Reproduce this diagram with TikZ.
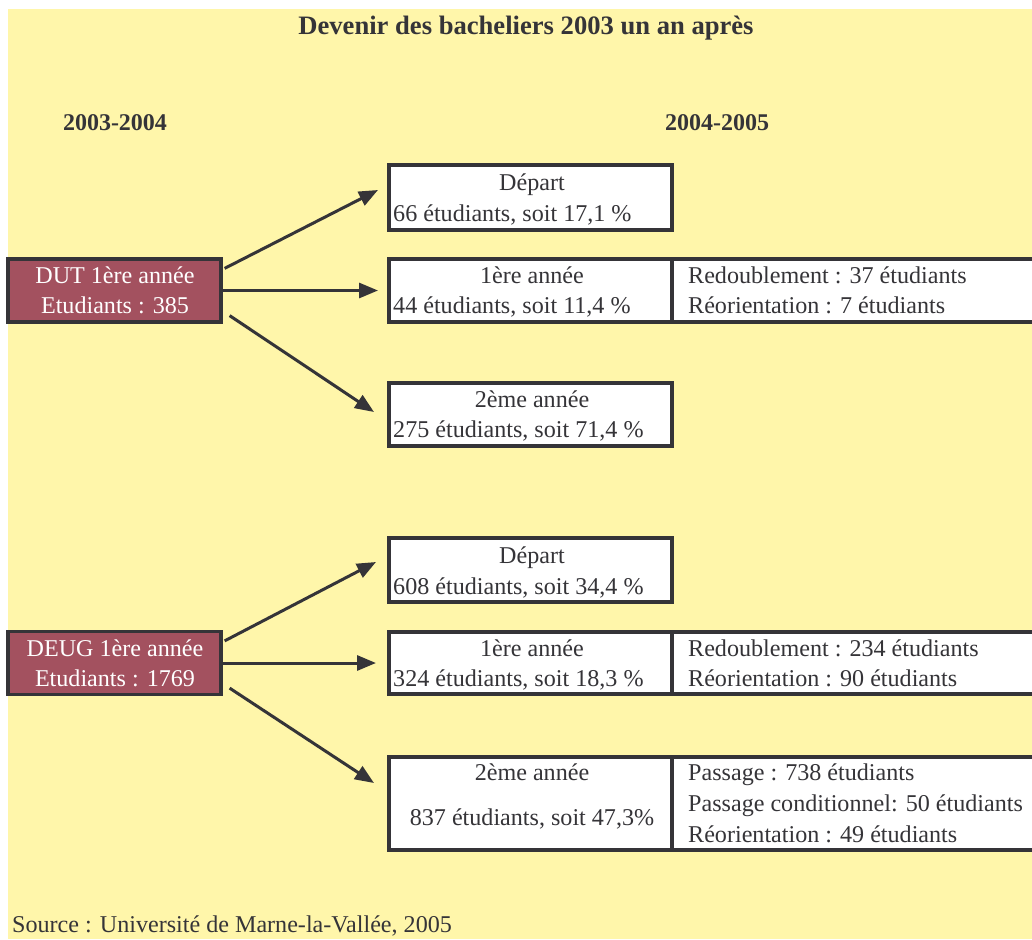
\documentclass[tikz,border=0pt]{standalone}
\usepackage{fontspec}
\setmainfont{Liberation Serif}
\usetikzlibrary{arrows.meta,calc}
\definecolor{bgyellow}{HTML}{FFF6AA}
\definecolor{maroon}{HTML}{A3515F}
\definecolor{edge}{HTML}{353438}
\definecolor{ink}{HTML}{353438}
\begin{document}
\begin{tikzpicture}[x=1pt,y=-1pt,
  box/.style={draw=edge,line width=3.2pt,fill=white,inner sep=0pt,minimum width=283pt},
  srcbox/.style={draw=edge,line width=3.2pt,fill=maroon,inner sep=0pt,minimum width=213pt,minimum height=63pt},
  sidebox/.style={draw=edge,line width=3.2pt,fill=white,inner sep=0pt,minimum width=362pt},
  txt/.style={font=\fontsize{24.1}{29}\selectfont,text=ink,inner sep=0pt,anchor=base},
  ltxt/.style={txt,anchor=base west},
  wtxt/.style={txt,text=white},
  hdr/.style={font=\fontsize{24}{29}\selectfont\bfseries,text=ink,inner sep=0pt,anchor=base},
  ttl/.style={font=\fontsize{26.6}{30}\selectfont\bfseries,text=ink,inner sep=0pt,anchor=base},
  arr/.style={draw=edge,line width=3pt,-{Triangle[length=19pt,width=15pt]}}]
\useasboundingbox (0,0) rectangle (1032,939);
\fill[white] (0,0) rectangle (1032,939);
\fill[bgyellow] (8,9) rectangle (1032,939);

% headings
\node[ttl] (title) at (526,35) {Devenir des bacheliers 2003 un an après};
\node[hdr] (y1) at (115,130) {2003-2004};
\node[hdr] (y2) at (717,130) {2004-2005};

% DUT group
\node[srcbox] (dut) at (114.5,290.5) {};
\node[wtxt] (dutA) at (115,283) {DUT 1ère année};
\node[wtxt] (dutB) at (115,313) {Etudiants : 385};

\node[box,minimum height=65pt] (d1) at (530.5,197.5) {};
\node[txt] (d1a) at (532,190) {Départ};
\node[ltxt] (d1b) at (393,221) {66 étudiants, soit 17,1 \%};

\node[sidebox,minimum height=63pt] (r1) at (853,290.5) {};
\node[box,minimum height=63pt] (p1) at (530.5,290.5) {};
\node[txt] (p1a) at (532,283) {1ère année};
\node[ltxt] (p1b) at (393,313) {44 étudiants, soit 11,4 \%};
\node[ltxt] (r1a) at (688,283) {Redoublement : 37 étudiants};
\node[ltxt] (r1b) at (688,313) {Réorientation : 7 étudiants};

\node[box,minimum height=63pt] (s1) at (530.5,414.5) {};
\node[txt] (s1a) at (532,407) {2ème année};
\node[ltxt] (s1b) at (393,437) {275 étudiants, soit 71,4 \%};

\coordinate (t1) at (378,190);
\coordinate (t2) at (378,290.5);
\coordinate (t3) at (374,412);
\draw[arr] ($(dut.north east)+(2,11)$) -- (t1);
\draw[arr] (dut.east) -- (t2);
\draw[arr] ($(dut.south east)+(7,-8)$) -- (t3);

% DEUG group
\node[srcbox] (deug) at (114.5,663) {};
\node[wtxt] (deugA) at (115,656) {DEUG 1ère année};
\node[wtxt] (deugB) at (115,686) {Etudiants : 1769};

\node[box,minimum height=64pt] (d2) at (530.5,570) {};
\node[txt] (d2a) at (532,563) {Départ};
\node[ltxt] (d2b) at (393,594) {608 étudiants, soit 34,4 \%};

\node[sidebox,minimum height=62pt] (r2) at (853,663) {};
\node[box,minimum height=62pt] (p2) at (530.5,663) {};
\node[txt] (p2a) at (532,656) {1ère année};
\node[ltxt] (p2b) at (393,686) {324 étudiants, soit 18,3 \%};
\node[ltxt] (r2a) at (688,656) {Redoublement : 234 étudiants};
\node[ltxt] (r2b) at (688,686) {Réorientation : 90 étudiants};

\node[sidebox,minimum height=93pt] (q2) at (853,803.5) {};
\node[box,minimum height=93pt] (s2) at (530.5,803.5) {};
\node[txt] (s2a) at (532,780) {2ème année};
\node[txt] (s2b) at (532,825) {837 étudiants, soit 47,3\%};
\node[ltxt] (q2a) at (688,780) {Passage : 738 étudiants};
\node[ltxt] (q2b) at (688,811) {Passage conditionnel: 50 étudiants};
\node[ltxt] (q2c) at (688,842) {Réorientation : 49 étudiants};

\coordinate (u1) at (376,562);
\coordinate (u2) at (376,663);
\coordinate (u3) at (374,783);
\draw[arr] ($(deug.north east)+(2,11)$) -- (u1);
\draw[arr] (deug.east) -- (u2);
\draw[arr] ($(deug.south east)+(7,-8)$) -- (u3);

\node[ltxt] (src) at (12,932) {Source : Université de Marne-la-Vallée, 2005};
\end{tikzpicture}
\end{document}
